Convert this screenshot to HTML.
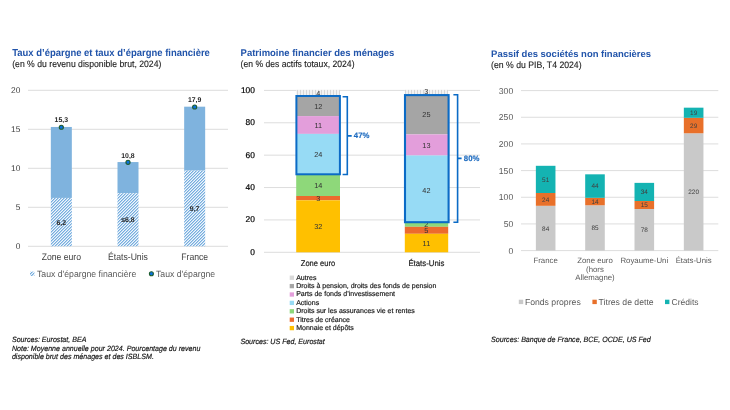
<!DOCTYPE html><html><head><meta charset="utf-8"><style>html,body{margin:0;padding:0;background:#fff;width:730px;height:410px;overflow:hidden}svg{display:block;will-change:transform}text{font-family:"Liberation Sans",sans-serif;text-rendering:geometricPrecision}</style></head><body>
<svg width="730" height="410" viewBox="0 0 730 410">
<defs>
<pattern id="hatch" patternUnits="userSpaceOnUse" width="3" height="3"><rect x="0" y="0" width="1" height="1" fill="#76ADDE"/><rect x="1" y="0" width="1" height="1" fill="#B4D3EE"/><rect x="2" y="0" width="1" height="1" fill="#F0F6FC"/><rect x="0" y="1" width="1" height="1" fill="#B4D3EE"/><rect x="1" y="1" width="1" height="1" fill="#F0F6FC"/><rect x="2" y="1" width="1" height="1" fill="#76ADDE"/><rect x="0" y="2" width="1" height="1" fill="#F0F6FC"/><rect x="1" y="2" width="1" height="1" fill="#76ADDE"/><rect x="2" y="2" width="1" height="1" fill="#B4D3EE"/></pattern>
<pattern id="vhatch" patternUnits="userSpaceOnUse" width="3" height="3"><rect width="3" height="3" fill="#F2F2F2"/><rect x="0" width="1" height="3" fill="#D6D6D6"/></pattern>
</defs>
<rect width="730" height="410" fill="#fff"/>
<text transform="translate(12.20 55.90) scale(1 1.06)" x="0" y="0" font-size="9.47" fill="#2154AA" text-anchor="start" font-weight="bold" font-style="normal" >Taux d’épargne et taux d’épargne financière</text>
<text transform="translate(12.20 66.70) scale(1 1.08)" x="0" y="0" font-size="8.66" fill="#222" text-anchor="start" font-weight="normal" font-style="normal" stroke="#222" stroke-width="0.12">(en % du revenu disponible brut, 2024)</text>
<line x1="28.00" y1="246.30" x2="228.00" y2="246.30" stroke="#DDDDDD" stroke-width="1" />
<text x="20.30" y="249.10" font-size="8.4" fill="#404040" text-anchor="end" font-weight="normal" font-style="normal" >0</text>
<line x1="28.00" y1="207.30" x2="228.00" y2="207.30" stroke="#DDDDDD" stroke-width="1" />
<text x="20.30" y="210.10" font-size="8.4" fill="#404040" text-anchor="end" font-weight="normal" font-style="normal" >5</text>
<line x1="28.00" y1="168.30" x2="228.00" y2="168.30" stroke="#DDDDDD" stroke-width="1" />
<text x="20.30" y="171.10" font-size="8.4" fill="#404040" text-anchor="end" font-weight="normal" font-style="normal" >10</text>
<line x1="28.00" y1="129.30" x2="228.00" y2="129.30" stroke="#DDDDDD" stroke-width="1" />
<text x="20.30" y="132.10" font-size="8.4" fill="#404040" text-anchor="end" font-weight="normal" font-style="normal" >15</text>
<line x1="28.00" y1="90.30" x2="228.00" y2="90.30" stroke="#DDDDDD" stroke-width="1" />
<text x="20.30" y="93.10" font-size="8.4" fill="#404040" text-anchor="end" font-weight="normal" font-style="normal" >20</text>
<rect x="50.83" y="126.96" width="21.00" height="70.98" fill="#7FB3DE" />
<rect x="50.83" y="197.94" width="21.00" height="48.36" fill="url(#hatch)" />
<text x="61.33" y="224.52" font-size="6.9" fill="#262626" text-anchor="middle" font-weight="bold" font-style="normal" >6,2</text>
<circle cx="61.33" cy="127.26" r="2.05" fill="#0A72E0" stroke="#1D5C2E" stroke-width="1.1"/>
<text x="61.33" y="122.30" font-size="6.9" fill="#262626" text-anchor="middle" font-weight="bold" font-style="normal" >15,3</text>
<text transform="translate(61.33 259.50) scale(1 1.1)" x="0" y="0" font-size="8.65" fill="#404040" text-anchor="middle" font-weight="normal" font-style="normal" >Zone euro</text>
<rect x="117.50" y="162.06" width="21.00" height="31.20" fill="#7FB3DE" />
<rect x="117.50" y="193.26" width="21.00" height="53.04" fill="url(#hatch)" />
<text x="128.00" y="222.18" font-size="6.9" fill="#262626" text-anchor="middle" font-weight="bold" font-style="normal" >≤6,8</text>
<circle cx="128.00" cy="162.36" r="2.05" fill="#0A72E0" stroke="#1D5C2E" stroke-width="1.1"/>
<text x="128.00" y="158.20" font-size="6.9" fill="#262626" text-anchor="middle" font-weight="bold" font-style="normal" >10,8</text>
<text transform="translate(128.00 259.50) scale(1 1.1)" x="0" y="0" font-size="8.65" fill="#404040" text-anchor="middle" font-weight="normal" font-style="normal" >États-Unis</text>
<rect x="184.17" y="106.68" width="21.00" height="63.96" fill="#7FB3DE" />
<rect x="184.17" y="170.64" width="21.00" height="75.66" fill="url(#hatch)" />
<text x="194.67" y="210.87" font-size="6.9" fill="#262626" text-anchor="middle" font-weight="bold" font-style="normal" >9,7</text>
<circle cx="194.67" cy="106.98" r="2.05" fill="#0A72E0" stroke="#1D5C2E" stroke-width="1.1"/>
<text x="194.67" y="101.80" font-size="6.9" fill="#262626" text-anchor="middle" font-weight="bold" font-style="normal" >17,9</text>
<text transform="translate(194.67 259.50) scale(1 1.1)" x="0" y="0" font-size="8.65" fill="#404040" text-anchor="middle" font-weight="normal" font-style="normal" >France</text>
<rect x="30.00" y="271.60" width="4.40" height="4.40" fill="url(#hatch)" />
<text transform="translate(37.00 276.80) scale(1 1.06)" x="0" y="0" font-size="8.7" fill="#595959" text-anchor="start" font-weight="normal" font-style="normal" >Taux d'épargne financière</text>
<circle cx="151.4" cy="273.7" r="2.0" fill="#0A72E0" stroke="#1D5C2E" stroke-width="1.1"/>
<text transform="translate(156.00 276.80) scale(1 1.06)" x="0" y="0" font-size="8.7" fill="#595959" text-anchor="start" font-weight="normal" font-style="normal" >Taux d'épargne</text>
<text transform="translate(11.90 342.30) scale(1 1.08)" x="0" y="0" font-size="7.1" fill="#111" text-anchor="start" font-weight="normal" font-style="italic" stroke="#111" stroke-width="0.15">Sources: Eurostat, BEA</text>
<text transform="translate(11.90 350.60) scale(1 1.08)" x="0" y="0" font-size="7.1" fill="#111" text-anchor="start" font-weight="normal" font-style="italic" stroke="#111" stroke-width="0.15">Note: Moyenne annuelle pour 2024. Pourcentage du revenu</text>
<text transform="translate(11.90 358.80) scale(1 1.08)" x="0" y="0" font-size="7.1" fill="#111" text-anchor="start" font-weight="normal" font-style="italic" stroke="#111" stroke-width="0.15">disponible brut des ménages et des ISBLSM.</text>
<text transform="translate(240.60 55.90) scale(1 1.03)" x="0" y="0" font-size="9.47" fill="#2154AA" text-anchor="start" font-weight="bold" font-style="normal" >Patrimoine financier des ménages</text>
<text transform="translate(240.60 66.60) scale(1 1.08)" x="0" y="0" font-size="8.62" fill="#222" text-anchor="start" font-weight="normal" font-style="normal" stroke="#222" stroke-width="0.12">(en % des actifs totaux, 2024)</text>
<line x1="264.00" y1="252.30" x2="480.00" y2="252.30" stroke="#DDDDDD" stroke-width="1" />
<text x="254.90" y="254.70" font-size="8.4" fill="#000" text-anchor="end" font-weight="normal" font-style="normal" stroke="#000" stroke-width="0.2">0</text>
<line x1="264.00" y1="219.92" x2="480.00" y2="219.92" stroke="#DDDDDD" stroke-width="1" />
<text x="254.90" y="222.32" font-size="8.4" fill="#000" text-anchor="end" font-weight="normal" font-style="normal" stroke="#000" stroke-width="0.2">20</text>
<line x1="264.00" y1="187.54" x2="480.00" y2="187.54" stroke="#DDDDDD" stroke-width="1" />
<text x="254.90" y="189.94" font-size="8.4" fill="#000" text-anchor="end" font-weight="normal" font-style="normal" stroke="#000" stroke-width="0.2">40</text>
<line x1="264.00" y1="155.16" x2="480.00" y2="155.16" stroke="#DDDDDD" stroke-width="1" />
<text x="254.90" y="157.56" font-size="8.4" fill="#000" text-anchor="end" font-weight="normal" font-style="normal" stroke="#000" stroke-width="0.2">60</text>
<line x1="264.00" y1="122.78" x2="480.00" y2="122.78" stroke="#DDDDDD" stroke-width="1" />
<text x="254.90" y="125.18" font-size="8.4" fill="#000" text-anchor="end" font-weight="normal" font-style="normal" stroke="#000" stroke-width="0.2">80</text>
<line x1="264.00" y1="90.40" x2="480.00" y2="90.40" stroke="#DDDDDD" stroke-width="1" />
<text x="254.90" y="92.80" font-size="8.4" fill="#000" text-anchor="end" font-weight="normal" font-style="normal" stroke="#000" stroke-width="0.2">100</text>
<rect x="296.20" y="89.90" width="43.80" height="6.10" fill="url(#vhatch)" />
<rect x="296.20" y="96.00" width="43.80" height="20.10" fill="#A5A5A5" />
<rect x="296.20" y="116.10" width="43.80" height="17.80" fill="#E39EDB" />
<rect x="296.20" y="133.90" width="43.80" height="40.50" fill="#97DBF5" />
<rect x="296.20" y="174.40" width="43.80" height="21.60" fill="#8ED87A" />
<rect x="296.20" y="196.00" width="43.80" height="4.30" fill="#EC6B2D" />
<rect x="296.20" y="200.30" width="43.80" height="52.00" fill="#FFC000" />
<text x="318.20" y="96.10" font-size="7.3" fill="#333" text-anchor="middle" font-weight="normal" font-style="normal" >4</text>
<text x="318.20" y="108.70" font-size="7.3" fill="#333" text-anchor="middle" font-weight="normal" font-style="normal" >12</text>
<text x="318.20" y="127.60" font-size="7.3" fill="#333" text-anchor="middle" font-weight="normal" font-style="normal" >11</text>
<text x="318.20" y="156.80" font-size="7.3" fill="#333" text-anchor="middle" font-weight="normal" font-style="normal" >24</text>
<text x="318.20" y="187.80" font-size="7.3" fill="#333" text-anchor="middle" font-weight="normal" font-style="normal" >14</text>
<text x="318.20" y="200.90" font-size="7.3" fill="#333" text-anchor="middle" font-weight="normal" font-style="normal" >3</text>
<text x="318.20" y="228.90" font-size="7.3" fill="#333" text-anchor="middle" font-weight="normal" font-style="normal" >32</text>
<rect x="296.4" y="96" width="43.5" height="78.3" fill="none" stroke="#0B6BC6" stroke-width="2"/>
<path d="M342.6 96.8 H347.3 V174.5 H342.6 M347.3 135.9 H351.7" fill="none" stroke="#0B6BC6" stroke-width="1.6"/>
<text x="353.80" y="138.40" font-size="7.8" fill="#1F6CC0" text-anchor="start" font-weight="bold" font-style="normal" stroke="#1F6CC0" stroke-width="0.15">47%</text>
<rect x="404.80" y="89.90" width="43.40" height="4.60" fill="url(#vhatch)" />
<rect x="404.80" y="95.20" width="43.40" height="39.20" fill="#A5A5A5" />
<rect x="404.80" y="134.40" width="43.40" height="21.10" fill="#E39EDB" />
<rect x="404.80" y="155.50" width="43.40" height="66.70" fill="#97DBF5" />
<rect x="404.80" y="222.20" width="43.40" height="4.60" fill="#8ED87A" />
<rect x="404.80" y="226.80" width="43.40" height="7.00" fill="#EC6B2D" />
<rect x="404.80" y="233.80" width="43.40" height="18.50" fill="#FFC000" />
<text x="426.40" y="94.40" font-size="7.3" fill="#333" text-anchor="middle" font-weight="normal" font-style="normal" >3</text>
<text x="426.40" y="117.20" font-size="7.3" fill="#333" text-anchor="middle" font-weight="normal" font-style="normal" >25</text>
<text x="426.40" y="147.80" font-size="7.3" fill="#333" text-anchor="middle" font-weight="normal" font-style="normal" >13</text>
<text x="426.40" y="192.50" font-size="7.3" fill="#333" text-anchor="middle" font-weight="normal" font-style="normal" >42</text>
<text x="426.40" y="227.20" font-size="7.3" fill="#333" text-anchor="middle" font-weight="normal" font-style="normal" >2</text>
<text x="426.40" y="233.10" font-size="7.3" fill="#333" text-anchor="middle" font-weight="normal" font-style="normal" >5</text>
<text x="426.40" y="245.80" font-size="7.3" fill="#333" text-anchor="middle" font-weight="normal" font-style="normal" >11</text>
<rect x="405" y="95.1" width="43.6" height="127.1" fill="none" stroke="#0B6BC6" stroke-width="2.1"/>
<path d="M453.4 94.8 H457.6 V222.3 H453.4 M457.6 158.4 H461.6" fill="none" stroke="#0B6BC6" stroke-width="1.6"/>
<text x="463.80" y="161.00" font-size="7.8" fill="#1F6CC0" text-anchor="start" font-weight="bold" font-style="normal" stroke="#1F6CC0" stroke-width="0.15">80%</text>
<text x="318.00" y="266.00" font-size="8.2" fill="#1a1a1a" text-anchor="middle" font-weight="normal" font-style="normal" textLength="34.3" lengthAdjust="spacingAndGlyphs" stroke="#1a1a1a" stroke-width="0.2">Zone euro</text>
<text x="426.40" y="266.00" font-size="8.2" fill="#1a1a1a" text-anchor="middle" font-weight="normal" font-style="normal" textLength="36" lengthAdjust="spacingAndGlyphs" stroke="#1a1a1a" stroke-width="0.2">États-Unis</text>
<rect x="289.70" y="275.55" width="4.30" height="4.30" fill="#D9D9D9" />
<text x="296.20" y="279.50" font-size="7.0" fill="#1a1a1a" text-anchor="start" font-weight="normal" font-style="normal" stroke="#1a1a1a" stroke-width="0.18">Autres</text>
<rect x="289.70" y="283.95" width="4.30" height="4.30" fill="#A5A5A5" />
<text x="296.20" y="287.90" font-size="7.0" fill="#1a1a1a" text-anchor="start" font-weight="normal" font-style="normal" stroke="#1a1a1a" stroke-width="0.18">Droits à pension, droits des fonds de pension</text>
<rect x="289.70" y="292.35" width="4.30" height="4.30" fill="#E39EDB" />
<text x="296.20" y="296.30" font-size="7.0" fill="#1a1a1a" text-anchor="start" font-weight="normal" font-style="normal" stroke="#1a1a1a" stroke-width="0.18">Parts de fonds d’investissement</text>
<rect x="289.70" y="300.75" width="4.30" height="4.30" fill="#97DBF5" />
<text x="296.20" y="304.70" font-size="7.0" fill="#1a1a1a" text-anchor="start" font-weight="normal" font-style="normal" stroke="#1a1a1a" stroke-width="0.18">Actions</text>
<rect x="289.70" y="309.15" width="4.30" height="4.30" fill="#8ED87A" />
<text x="296.20" y="313.10" font-size="7.0" fill="#1a1a1a" text-anchor="start" font-weight="normal" font-style="normal" stroke="#1a1a1a" stroke-width="0.18">Droits sur les assurances vie et rentes</text>
<rect x="289.70" y="317.55" width="4.30" height="4.30" fill="#EC6B2D" />
<text x="296.20" y="321.50" font-size="7.0" fill="#1a1a1a" text-anchor="start" font-weight="normal" font-style="normal" stroke="#1a1a1a" stroke-width="0.18">Titres de créance</text>
<rect x="289.70" y="325.95" width="4.30" height="4.30" fill="#FFC000" />
<text x="296.20" y="329.90" font-size="7.0" fill="#1a1a1a" text-anchor="start" font-weight="normal" font-style="normal" stroke="#1a1a1a" stroke-width="0.18">Monnaie et dépôts</text>
<text transform="translate(240.40 344.00) scale(1 1.08)" x="0" y="0" font-size="7.1" fill="#111" text-anchor="start" font-weight="normal" font-style="italic" stroke="#111" stroke-width="0.15">Sources: US Fed, Eurostat</text>
<text x="491.10" y="57.40" font-size="9.47" fill="#2154AA" text-anchor="start" font-weight="bold" font-style="normal" >Passif des sociétés non financières</text>
<text transform="translate(491.10 68.00) scale(1 1.08)" x="0" y="0" font-size="8.68" fill="#222" text-anchor="start" font-weight="normal" font-style="normal" stroke="#222" stroke-width="0.12">(en % du PIB, T4 2024)</text>
<line x1="521.00" y1="250.60" x2="718.30" y2="250.60" stroke="#DDDDDD" stroke-width="1" />
<text x="513.20" y="253.60" font-size="8.6" fill="#595959" text-anchor="end" font-weight="normal" font-style="normal" >0</text>
<line x1="521.00" y1="223.93" x2="718.30" y2="223.93" stroke="#DDDDDD" stroke-width="1" />
<text x="513.20" y="226.93" font-size="8.6" fill="#595959" text-anchor="end" font-weight="normal" font-style="normal" >50</text>
<line x1="521.00" y1="197.27" x2="718.30" y2="197.27" stroke="#DDDDDD" stroke-width="1" />
<text x="513.20" y="200.27" font-size="8.6" fill="#595959" text-anchor="end" font-weight="normal" font-style="normal" >100</text>
<line x1="521.00" y1="170.60" x2="718.30" y2="170.60" stroke="#DDDDDD" stroke-width="1" />
<text x="513.20" y="173.60" font-size="8.6" fill="#595959" text-anchor="end" font-weight="normal" font-style="normal" >150</text>
<line x1="521.00" y1="143.93" x2="718.30" y2="143.93" stroke="#DDDDDD" stroke-width="1" />
<text x="513.20" y="146.93" font-size="8.6" fill="#595959" text-anchor="end" font-weight="normal" font-style="normal" >200</text>
<line x1="521.00" y1="117.27" x2="718.30" y2="117.27" stroke="#DDDDDD" stroke-width="1" />
<text x="513.20" y="120.27" font-size="8.6" fill="#595959" text-anchor="end" font-weight="normal" font-style="normal" >250</text>
<line x1="521.00" y1="90.60" x2="718.30" y2="90.60" stroke="#DDDDDD" stroke-width="1" />
<text x="513.20" y="93.60" font-size="8.6" fill="#595959" text-anchor="end" font-weight="normal" font-style="normal" >300</text>
<rect x="535.86" y="205.80" width="19.60" height="44.80" fill="#C9C9C9" />
<rect x="535.86" y="193.00" width="19.60" height="12.80" fill="#E8702A" />
<rect x="535.86" y="165.80" width="19.60" height="27.20" fill="#14B3B2" />
<text x="545.66" y="230.50" font-size="6.4" fill="#404040" text-anchor="middle" font-weight="normal" font-style="normal" >84</text>
<text x="545.66" y="201.70" font-size="6.4" fill="#404040" text-anchor="middle" font-weight="normal" font-style="normal" >24</text>
<text x="545.66" y="181.70" font-size="6.4" fill="#404040" text-anchor="middle" font-weight="normal" font-style="normal" >51</text>
<text x="545.66" y="263.00" font-size="7.8" fill="#595959" text-anchor="middle" font-weight="normal" font-style="normal" >France</text>
<rect x="585.19" y="205.27" width="19.60" height="45.33" fill="#C9C9C9" />
<rect x="585.19" y="197.80" width="19.60" height="7.47" fill="#E8702A" />
<rect x="585.19" y="174.33" width="19.60" height="23.47" fill="#14B3B2" />
<text x="594.99" y="230.23" font-size="6.4" fill="#404040" text-anchor="middle" font-weight="normal" font-style="normal" >85</text>
<text x="594.99" y="203.83" font-size="6.4" fill="#404040" text-anchor="middle" font-weight="normal" font-style="normal" >14</text>
<text x="594.99" y="188.37" font-size="6.4" fill="#404040" text-anchor="middle" font-weight="normal" font-style="normal" >44</text>
<text x="594.99" y="263.00" font-size="7.8" fill="#595959" text-anchor="middle" font-weight="normal" font-style="normal" >Zone euro</text>
<text x="594.99" y="271.80" font-size="7.8" fill="#595959" text-anchor="middle" font-weight="normal" font-style="normal" >(hors</text>
<text x="594.99" y="280.40" font-size="7.8" fill="#595959" text-anchor="middle" font-weight="normal" font-style="normal" >Allemagne)</text>
<rect x="634.51" y="209.00" width="19.60" height="41.60" fill="#C9C9C9" />
<rect x="634.51" y="201.00" width="19.60" height="8.00" fill="#E8702A" />
<rect x="634.51" y="182.87" width="19.60" height="18.13" fill="#14B3B2" />
<text x="644.31" y="232.10" font-size="6.4" fill="#404040" text-anchor="middle" font-weight="normal" font-style="normal" >78</text>
<text x="644.31" y="207.30" font-size="6.4" fill="#404040" text-anchor="middle" font-weight="normal" font-style="normal" >15</text>
<text x="644.31" y="194.23" font-size="6.4" fill="#404040" text-anchor="middle" font-weight="normal" font-style="normal" >34</text>
<text x="644.31" y="263.00" font-size="7.8" fill="#595959" text-anchor="middle" font-weight="normal" font-style="normal" >Royaume-Uni</text>
<rect x="683.84" y="133.27" width="19.60" height="117.33" fill="#C9C9C9" />
<rect x="683.84" y="117.80" width="19.60" height="15.47" fill="#E8702A" />
<rect x="683.84" y="107.67" width="19.60" height="10.13" fill="#14B3B2" />
<text x="693.64" y="194.23" font-size="6.4" fill="#404040" text-anchor="middle" font-weight="normal" font-style="normal" >220</text>
<text x="693.64" y="127.83" font-size="6.4" fill="#404040" text-anchor="middle" font-weight="normal" font-style="normal" >29</text>
<text x="693.64" y="115.03" font-size="6.4" fill="#404040" text-anchor="middle" font-weight="normal" font-style="normal" >19</text>
<text x="693.64" y="263.00" font-size="7.8" fill="#595959" text-anchor="middle" font-weight="normal" font-style="normal" >États-Unis</text>
<rect x="518.80" y="299.70" width="4.40" height="4.40" fill="#C9C9C9" />
<text x="524.90" y="305.00" font-size="8.67" fill="#595959" text-anchor="start" font-weight="normal" font-style="normal" >Fonds propres</text>
<rect x="592.40" y="299.70" width="4.40" height="4.40" fill="#E8702A" />
<text x="598.60" y="305.00" font-size="8.67" fill="#595959" text-anchor="start" font-weight="normal" font-style="normal" >Titres de dette</text>
<rect x="665.00" y="299.70" width="4.40" height="4.40" fill="#14B3B2" />
<text x="671.60" y="305.00" font-size="8.5" fill="#595959" text-anchor="start" font-weight="normal" font-style="normal" >Crédits</text>
<text transform="translate(491.10 341.60) scale(1 1.08)" x="0" y="0" font-size="7.12" fill="#111" text-anchor="start" font-weight="normal" font-style="italic" stroke="#111" stroke-width="0.15">Sources: Banque de France, BCE, OCDE, US Fed</text>
</svg></body></html>
